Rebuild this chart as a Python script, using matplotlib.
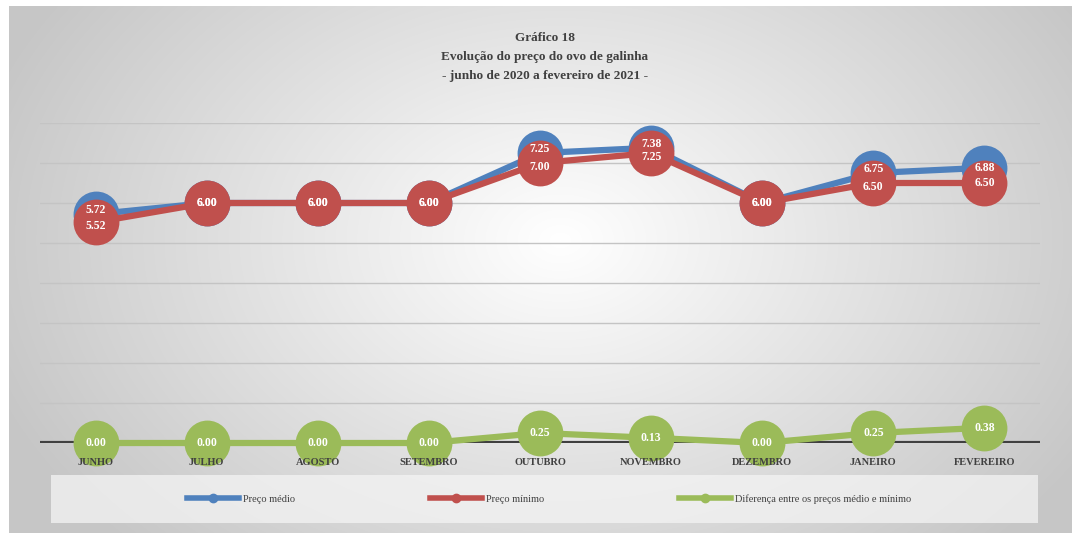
import matplotlib.pyplot as plt
from matplotlib import font_manager
from matplotlib.lines import Line2D
from matplotlib.patches import Rectangle
import numpy as np

meses = ['JUNHO', 'JULHO', 'AGOSTO', 'SETEMBRO', 'OUTUBRO',
         'NOVEMBRO', 'DEZEMBRO', 'JANEIRO', 'FEVEREIRO']
preco_medio = [5.72, 6.00, 6.00, 6.00, 7.25, 7.38, 6.00, 6.75, 6.88]
preco_minimo = [5.52, 6.00, 6.00, 6.00, 7.00, 7.25, 6.00, 6.50, 6.50]
diferenca = [0.00, 0.00, 0.00, 0.00, 0.25, 0.13, 0.00, 0.25, 0.38]
nomes = ['Preço médio', 'Preço mínimo', 'Diferença entre os preços médio e mínimo']
cores = ['#4F81BD', '#C0504D', '#9BBB59']

# fonte estreita, se houver
disponiveis = {f.name for f in font_manager.fontManager.ttflist}
fonte = 'DejaVu Serif'
for cand in ['DejaVu Serif Condensed', 'Liberation Sans Narrow', 'Liberation Serif']:
    if cand in disponiveis:
        fonte = cand
        break
plt.rcParams['font.family'] = [fonte, 'DejaVu Sans']

W, H = 1072, 533
fig = plt.figure(figsize=(W / 100, H / 100), dpi=100)

# fundo com gradiente radial
bg = fig.add_axes([0, 0, 1, 1], zorder=0)
yy, xx = np.mgrid[0:H, 0:W]
d = np.sqrt(((xx - 560) / 600) ** 2 + ((yy - 240) / 430) ** 2)
tom = 1 - 0.22 * np.clip(d, 0, 1)
img = np.dstack([tom] * 3)
img[:6, :] = 1
img[:, :9] = 1
bg.imshow(img, extent=[0, W, H, 0], aspect='auto')
bg.set_xlim(0, W)
bg.set_ylim(H, 0)
bg.axis('off')
bg.add_patch(Rectangle((51, 475), 987, 48, facecolor='#F4F4F4', alpha=0.75,
                       edgecolor='none'))

titulo = ['Gráfico 18', 'Evolução do preço do ovo de galinha',
          '- junho de 2020 a fevereiro de 2021 -']
for yt, t in zip([38, 57, 76], titulo):
    bg.text(545, yt, t, ha='center', va='center', fontsize=9.5, color='#404040',
            fontweight='semibold')

ax = fig.add_axes([40 / W, (H - 443) / H, 1000 / W, 320 / H], zorder=1)
ax.patch.set_alpha(0)
x = np.arange(len(meses))
ax.set_xlim(-0.5, len(meses) - 0.5)
ax.set_ylim(0, 8)
for v in range(1, 9):
    ax.axhline(v, color='#C4C4C4', lw=1, zorder=1)
ax.axhline(0, color='#404040', lw=3, zorder=2)
for s in ax.spines.values():
    s.set_visible(False)
ax.set_xticks([])
ax.set_yticks([])

for serie, cor, z in zip([preco_medio, preco_minimo, diferenca], cores, [3, 4, 5]):
    ax.plot(x, serie, color=cor, lw=4.5, marker='o', markersize=33,
            markeredgewidth=0, zorder=z, clip_on=False, solid_capstyle='round')

# rótulos; afasta um pouco os que ficam muito próximos
for xi, vm, vn, vd in zip(x, preco_medio, preco_minimo, diferenca):
    perto = 0 < abs(vm - vn) < 0.3
    rotulos = [(vm, 3 if perto else 0), (vn, -3 if perto else 0), (vd, 0)]
    for v, dy in rotulos:
        ax.annotate(f'{v:.2f}', (xi, v), xytext=(0, dy), textcoords='offset points',
                    ha='center', va='center', color='white', fontsize=8.5,
                    fontweight='bold', zorder=10)
for xi, m in zip(x, meses):
    ax.annotate(m, (xi, 0), xytext=(0, -14), textcoords='offset points',
                ha='center', va='center', fontsize=7.5, color='#404040',
                fontweight='bold', zorder=11, annotation_clip=False)

handles = [Line2D([], [], color=c, lw=4, marker='o', markersize=6) for c in cores]
fig.legend(handles, nomes, loc='center', bbox_to_anchor=(549 / W, (H - 499) / H),
           ncol=3, frameon=False, fontsize=7.5, handlelength=5, columnspacing=12.9,
           handletextpad=0.4, labelcolor='#404040')

fig.savefig('out.png', dpi=100)
